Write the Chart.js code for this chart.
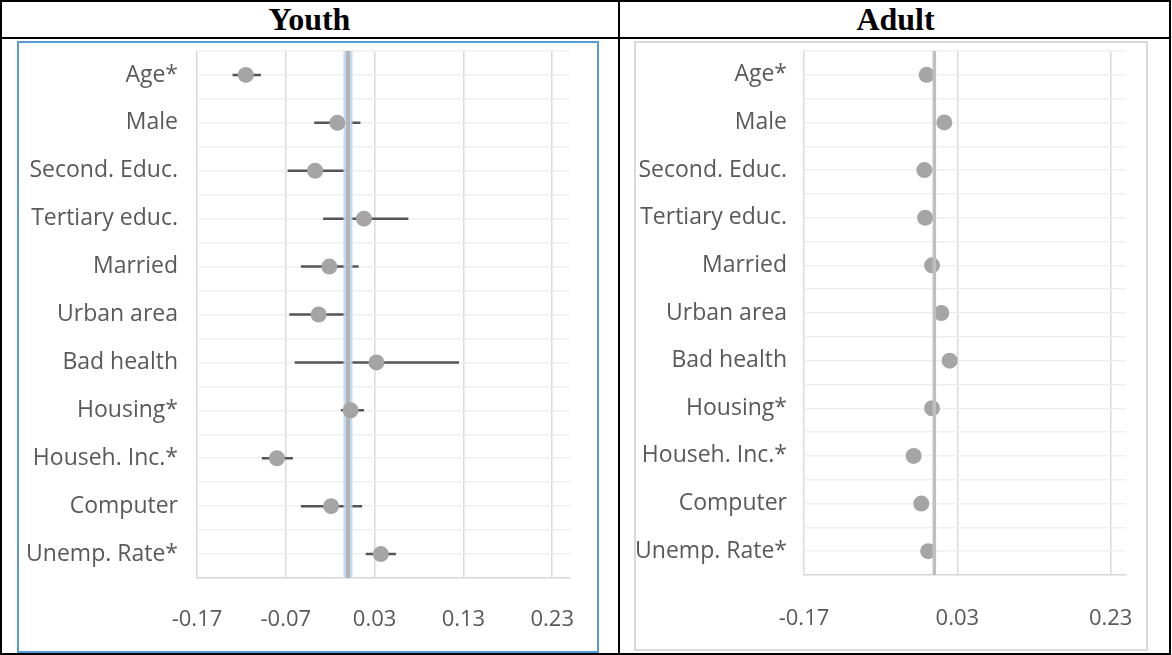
<!DOCTYPE html>
<html>
<head>
<meta charset="utf-8">
<script src="https://cdn.jsdelivr.net/npm/chart.js@4/dist/chart.umd.min.js"></script>
<style>
  body { margin: 0; background: #fff; }
  .frame { position: absolute; left: 0; top: 0; width: 1171px; height: 655px; box-sizing: border-box; border: 2px solid #000; }
  .rowline { position: absolute; left: 0; top: 37px; width: 1171px; height: 2px; background: #000; }
  .colline { position: absolute; left: 618px; top: 0; width: 2px; height: 655px; background: #000; }
  .head { position: absolute; top: 2px; height: 35px; line-height: 35px; text-align: center;
          font-family: "Liberation Serif", serif; font-weight: bold; font-size: 32px; color: #000; }
  .box { position: absolute; box-sizing: border-box; }
  .box canvas { position: absolute; left: 0; top: 0; }
</style>
</head>
<body>
<div class="frame"></div>
<div class="rowline"></div>
<div class="colline"></div>
<div class="head" style="left:0;width:619px">Youth</div>
<div class="head" style="left:620px;width:551px">Adult</div>

<div class="box" style="left:17px;top:41px;width:582px;height:612px;border:2px solid #5b9bd5">
  <canvas id="youthChart" width="578" height="608"></canvas>
</div>
<div class="box" style="left:634px;top:41px;width:514px;height:610px;border:2px solid #d9d9d9">
  <canvas id="adultChart" width="510" height="606"></canvas>
</div>

<script>
// --- datos ---
const categories = ['Age*', 'Male', 'Second. Educ.', 'Tertiary educ.', 'Married', 'Urban area',
                    'Bad health', 'Housing*', 'Househ. Inc.*', 'Computer', 'Unemp. Rate*'];

// Youth: coeficiente e intervalo
const youthCoef = [-0.115, -0.012, -0.037, 0.018, -0.021, -0.033, 0.032, 0.003, -0.080, -0.019, 0.037];
const youthLow  = [-0.130, -0.038, -0.068, -0.028, -0.053, -0.066, -0.060, -0.008, -0.097, -0.053, 0.020];
const youthHigh = [-0.098, 0.014, -0.002, 0.068, 0.012, -0.001, 0.125, 0.018, -0.062, 0.016, 0.054];

// Adult: solo coeficiente
const adultCoef = [-0.010, 0.013, -0.013, -0.012, -0.003, 0.009, 0.020, -0.003, -0.027, -0.017, -0.008];

const youthTicks = [-0.17, -0.07, 0.03, 0.13, 0.23];
const adultTicks = [-0.17, 0.03, 0.23];
const refLine = 0;
const xMin = -0.17, xMax = 0.25;

const labelFont = { family: '"Open Sans", sans-serif', size: 23 };
const tickFont = { family: '"Open Sans", sans-serif', size: 22 };
const textColor = '#595959';

function pointsOf(values) {
    return values.map((v, i) => ({ x: v, y: i + 1 }));
}

function errorSegments(lows, highs) {
    const out = [];
    lows.forEach((lo, i) => {
        out.push({ x: lo, y: i + 1 }, { x: highs[i], y: i + 1 }, { x: null, y: null });
    });
    return out;
}

function refData() {
    return [{ x: refLine, y: 0.5 }, { x: refLine, y: categories.length + 0.5 }];
}

function buildOptions(xTicks, yWidth, yPad, xHeight, xPad, padding) {
    return {
        responsive: false,
        animation: false,
        layout: { padding: padding },
        plugins: { legend: { display: false }, tooltip: { enabled: false } },
        scales: {
            x: {
                type: 'linear', min: xMin, max: xMax,
                afterBuildTicks: s => { s.ticks = xTicks.map(v => ({ value: v })); },
                afterFit: s => { s.height = xHeight; s.paddingLeft = 0; s.paddingRight = 0; },
                ticks: { autoSkip: false, maxRotation: 0, padding: xPad, color: textColor, font: tickFont,
                         callback: v => v.toFixed(2) },
                grid: { color: '#d9d9d9', lineWidth: 1.5, drawTicks: false },
                border: { color: '#d9d9d9', width: 1.5 }
            },
            y: {
                type: 'linear', reverse: true, min: 0.5, max: categories.length + 0.5,
                afterBuildTicks: s => {
                    const t = [];
                    for (let k = 1; k <= categories.length * 2 + 1; k++) t.push({ value: k / 2 });
                    s.ticks = t;
                },
                afterFit: s => { s.width = yWidth; s.paddingTop = 0; s.paddingBottom = 0; },
                ticks: { autoSkip: false, padding: yPad, color: textColor, font: labelFont,
                         callback: v => Number.isInteger(v) ? categories[v - 1] : '' },
                grid: { color: '#efefef', lineWidth: 1.5, drawTicks: false },
                border: { display: false }
            }
        }
    };
}

new Chart(document.getElementById('youthChart'), {
    type: 'scatter',
    data: {
        datasets: [
            { data: pointsOf(youthCoef), backgroundColor: '#a5a5a5', borderWidth: 0, pointRadius: 8, order: 0 },
            { data: refData(), showLine: true, borderColor: '#b4b4b4', borderWidth: 4, pointRadius: 0, order: 1 },
            { data: refData(), showLine: true, borderColor: 'rgba(189,215,238,0.9)', borderWidth: 9, pointRadius: 0, order: 2 },
            { data: errorSegments(youthLow, youthHigh), showLine: true, spanGaps: false,
              borderColor: '#555555', borderWidth: 2.5, pointRadius: 0, order: 3 }
        ]
    },
    options: buildOptions(youthTicks, 178, 19, 73, 29, { top: 5, right: 27, left: 0, bottom: 0 })
});

new Chart(document.getElementById('adultChart'), {
    type: 'scatter',
    data: {
        datasets: [
            { data: refData(), showLine: true, borderColor: '#bfbfbf', borderWidth: 3.5, pointRadius: 0, order: 0 },
            { data: pointsOf(adultCoef), backgroundColor: '#a5a5a5', borderWidth: 0, pointRadius: 8, order: 1 }
        ]
    },
    options: buildOptions(adultTicks, 168, 17, 74, 31, { top: 0, right: 20, left: 0, bottom: 0 })
});
</script>
</body>
</html>
